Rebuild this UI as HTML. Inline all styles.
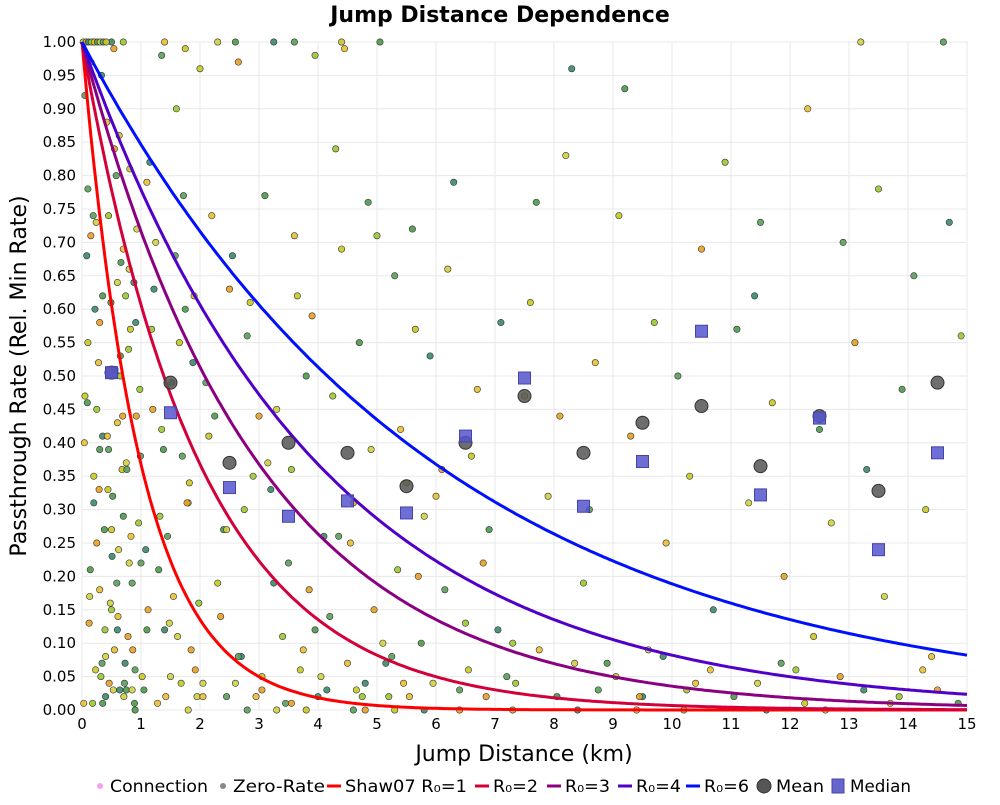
<!DOCTYPE html>
<html><head><meta charset="utf-8"><style>
body{margin:0;background:#fff;font-family:"Liberation Sans","DejaVu Sans",sans-serif}
svg text{font-family:"DejaVu Sans","Liberation Sans",sans-serif}
</style></head><body>
<svg id="c" width="1000" height="800" xmlns="http://www.w3.org/2000/svg">
<rect width="1000" height="800" fill="#fff"/>
<text x="500" y="22" text-anchor="middle" font-size="22" font-weight="bold">Jump Distance Dependence</text>
<rect x="82" y="42" width="885" height="668" fill="#fff" stroke="#ccc"/>
<g id="grid"></g><g id="pts"></g><g id="curves"></g><g id="stats"></g><g id="axes"></g>
<text x="524" y="761" text-anchor="middle" font-size="22">Jump Distance (km)</text>
<text transform="translate(26,376) rotate(-90)" text-anchor="middle" font-size="22">Passthrough Rate (Rel. Min Rate)</text>
<g id="legend" font-size="17"></g>
</svg>
<script>
const xTicks=[0,1,2,3,4,5,6,7,8,9,10,11,12,13,14,15];
const yTicks=[0,0.05,0.1,0.15,0.2,0.25,0.3,0.35,0.4,0.45,0.5,0.55,0.6,0.65,0.7,0.75,0.8,0.85,0.9,0.95,1.0];
const r0Values=[1,2,3,4,6];
const r0Colors=["#ff0000","#d4003a","#8b0080","#5000c8","#0010ff"];
const binCenters=[0.5,1.5,2.5,3.5,4.5,5.5,6.5,7.5,8.5,9.5,10.5,11.5,12.5,13.5,14.5];
const meanValues=[0.505,0.49,0.37,0.40,0.385,0.335,0.40,0.47,0.385,0.43,0.455,0.365,0.44,0.328,0.49];
const medianValues=[0.505,0.445,0.333,0.29,0.313,0.295,0.41,0.497,0.305,0.372,0.567,0.322,0.437,0.24,0.385];
const ptX=[0.05,0.1,0.15,0.2,0.25,0.3,0.35,0.4,0.45,0.5,0.55,0.6,0.65,0.7,0.75,0.8,0.1,0.2,0.3,0.4,0.5,0.6,0.7,0.8,0.9,0.15,0.25,0.35,0.45,0.55,0.65,0.75,0.85,0.05,0.12,0.22,0.32,0.42,0.52,0.62,0.72,0.82,0.92,0.08,0.18,0.28,0.38,0.48,0.58,0.68,0.78,0.88,0.98,0.04,0.14,0.24,0.34,0.44,0.54,0.64,0.74,1.1,1.3,1.5,1.7,1.9,1.2,1.4,1.6,1.8,1.05,1.25,1.45,1.65,1.85,1.15,1.35,1.55,1.75,1.95,2.1,2.3,2.5,2.7,2.9,2.2,2.4,2.6,2.8,2.15,2.35,2.55,2.75,2.95,3.1,3.3,3.5,3.7,3.9,3.2,3.4,3.6,3.8,3.15,3.45,3.65,3.85,4.1,4.3,4.5,4.7,4.9,4.2,4.4,4.6,4.8,4.25,4.55,4.85,5.1,5.3,5.5,5.7,5.9,5.2,5.4,5.6,5.8,5.25,5.65,6.1,6.3,6.5,6.7,6.9,6.2,6.4,6.6,6.8,7.1,7.3,7.5,7.7,7.9,7.2,7.6,8.1,8.3,8.5,8.7,8.9,8.2,8.6,9.1,9.3,9.5,9.7,9.9,9.2,9.6,10.1,10.3,10.5,10.7,10.9,10.4,11.1,11.3,11.5,11.7,11.9,11.4,12.1,12.3,12.5,12.7,12.9,12.4,13.1,13.3,13.5,13.7,13.9,13.6,14.1,14.3,14.5,14.7,14.9,14.4,0.3,0.6,1.0,2.0,3.0,4.0,5.0,6.0,1.1,2.3,3.6,4.4,0.2,0.5,0.7,1.4,2.6,3.3,4.6,5.3,6.4,8.4,10.2,12.6,0.9,1.8,2.8,3.8,4.8,5.8,7.3,9.4,11.6,13.2,14.6,
0.02,0.07,0.11,0.16,0.21,0.26,0.31,0.36,0.41,0.46,0.51,0.56,0.61,0.66,0.71,0.76,0.81,0.86,0.91,0.96,0.03,0.09,0.13,0.19,0.23,0.29,0.33,0.39,0.43,0.49,0.53,0.59,0.63,0.69,0.73,0.79,0.83,0.89,0.93,0.99,1.02,1.12,1.22,1.32,1.42,1.52,1.62,1.72,1.82,1.92,1.08,1.18,1.28,1.38,1.48,1.58,1.68,1.78,1.88,1.98,2.05,2.25,2.45,2.65,2.85,3.05,3.25,3.55,3.75,3.95,4.05,4.35,4.65,4.95,5.15,5.35,5.55,5.75,5.95,6.15,6.55,6.85,7.05,7.35,7.75,8.05,8.35,8.75,9.05,9.45,9.85,10.25,10.65,11.05,11.45,11.85,12.25,12.85,13.25,13.85,14.25,14.85,2.05,2.45,3.05,3.55,4.15,4.75,5.45,0.35,0.85,1.35,1.75,2.65,3.25,3.95,4.45,5.05];
const ptY=[0.92,0.55,0.71,0.31,0.45,0.18,0.62,0.08,0.39,0.27,0.84,0.12,0.5,0.69,0.03,0.22,0.78,0.35,0.58,0.02,0.15,0.43,0.29,0.66,0.06,0.97,0.25,0.41,0.74,0.09,0.53,0.37,0.19,0.47,0.13,0.6,0.05,0.88,0.32,0.24,0.04,0.57,0.44,0.68,0.01,0.52,0.27,0.16,0.8,0.36,0.11,0.64,0.48,0.4,0.21,0.73,0.07,0.33,0.99,0.03,0.62,0.79,0.21,0.05,0.38,0.62,0.45,0.12,0.9,0.31,0.03,0.7,0.26,0.55,0.09,0.82,0.42,0.17,0.6,0.02,0.49,0.19,0.63,0.08,0.35,0.74,0.27,0.04,0.56,0.41,0.14,0.68,0.3,0.02,0.77,0.45,0.22,0.06,0.59,0.33,0.11,0.71,0.5,0.37,0.01,0.62,0.18,0.26,0.84,0.07,0.55,0.39,0.14,0.69,0.31,0.04,0.47,0.25,0.76,0.1,0.65,0.34,0.2,0.53,0.02,0.42,0.72,0.29,0.08,0.57,0.36,0.79,0.13,0.48,0.27,0.66,0.03,0.38,0.22,0.58,0.1,0.47,0.76,0.32,0.05,0.61,0.44,0.96,0.19,0.52,0.07,0.83,0.3,0.74,0.41,0.02,0.58,0.25,0.93,0.09,0.5,0.35,0.69,0.15,0.82,0.04,0.57,0.31,0.73,0.46,0.2,0.62,0.06,0.9,0.42,0.28,0.7,0.11,0.55,0.36,0.78,0.01,0.48,0.17,0.65,0.3,0.03,0.73,0.56,0.08,0.39,0.64,0.22,0.96,0.44,0.02,0.71,0.32,0.12,1.0,1.0,1.0,1.0,1.0,1.0,1.0,1.0,0.0,0.0,0.0,0.0,0.0,0.0,0.0,0.0,0.0,0.0,0.0,0.0,0.0,0.0,0.0,0.0,1.0,1.0,1.0,1.0,1.0,1.0,1.0,1.0,1.0,1.0,1.0,
0.04,0.23,0.51,0.14,0.67,0.02,0.36,0.81,0.09,0.58,0.28,0.01,0.46,0.17,0.74,0.06,0.33,0.95,0.12,0.41,0.61,0.03,0.19,0.86,0.44,0.07,0.54,0.26,0.01,0.72,0.38,0.05,0.15,0.63,0.29,0.02,0.49,0.11,0.77,0.34,0.06,0.24,0.57,0.01,0.39,0.13,0.68,0.04,0.31,0.52,0.16,0.02,0.44,0.27,0.08,0.61,0.03,0.19,0.36,0.09,0.12,0.05,0.26,0.03,0.15,0.07,0.21,0.02,0.1,0.04,0.18,0.06,0.02,0.12,0.04,0.09,0.02,0.07,0.03,0.05,0.02,0.08,0.03,0.06,0.02,0.04,0.07,0.01,0.05,0.03,0.02,0.06,0.01,0.04,0.02,0.05,0.01,0.03,0.02,0.04,0.01,0.03,0.98,0.99,0.97,1.0,0.98,0.99,1.0,1.0,1.0,1.0,1.0,0.0,0.0,0.0,0.0,0.0];
const ptColors=["#5a9e5a","#c8c820","#e8a020","#3a8a6a","#9ac830","#e8c030","#4a9a4a","#d0d040"];
const X0=82,X1=967,Y0=710,Y1=42;
const sx=v=>X0+(X1-X0)*v/15, sy=v=>Y0-(Y0-Y1)*v;
const NS="http://www.w3.org/2000/svg";
function mk(tag,attrs,parent){const e=document.createElementNS(NS,tag);for(const k in attrs)e.setAttribute(k,attrs[k]);parent.appendChild(e);return e;}
const grid=document.getElementById('grid'),axes=document.getElementById('axes');
xTicks.forEach(t=>{
 const l=mk('line',{x1:sx(t),x2:sx(t),y1:Y1,y2:Y0,stroke:'#e8e8e8'},grid);
 
 
 const tx=mk('text',{x:sx(t),y:729,'text-anchor':'middle','font-size':15},axes);tx.textContent=t;
 
 
});
yTicks.forEach(t=>{
 const l=mk('line',{x1:X0,x2:X1,y1:sy(t),y2:sy(t),stroke:'#e8e8e8'},grid);
 
 
 const tx=mk('text',{x:76,y:sy(t)+5,'text-anchor':'end','font-size':15},axes);tx.textContent=t.toFixed(2);
 
 
});
const pts=document.getElementById('pts');
const n=Math.min(ptX.length,ptY.length);
for(let i=0;i<n;i++){
 const c=mk('circle',{cx:sx(ptX[i]),cy:sy(ptY[i]),r:3.2,fill:ptColors[i%ptColors.length],stroke:'#333','stroke-width':0.6,'fill-opacity':0.9},pts);
 
 
}
const curves=document.getElementById('curves');
r0Values.forEach((r,i)=>{
 let d='';for(let k=0;k<=300;k++){const x=15*k/300;d+=(k?'L':'M')+sx(x).toFixed(1)+','+sy(Math.exp(-x/r)).toFixed(1);}
 const p=mk('path',{d:d,fill:'none',stroke:r0Colors[i],'stroke-width':3},curves);
 
 
});
const stats=document.getElementById('stats');
binCenters.forEach((b,i)=>{
 const c=mk('circle',{cx:sx(b),cy:sy(meanValues[i]),r:6.5,fill:'#555','fill-opacity':0.85,stroke:'#333'},stats);
 
 
 const s=mk('rect',{x:sx(b)-6,y:sy(medianValues[i])-6,width:12,height:12,fill:'#5555cc','fill-opacity':0.85,stroke:'#4444aa'},stats);
 
 
});
const lg=document.getElementById('legend');const ly=792;
function ltext(x,w,t){const e=mk('text',{x:x,y:ly,textLength:w,lengthAdjust:'spacingAndGlyphs'},lg);e.textContent=t;return e;}
let e;
e=mk('circle',{cx:100,cy:ly-6,r:3,fill:'#f8a0f0'},lg);
ltext(110,98,'Connection');
e=mk('circle',{cx:223,cy:ly-6,r:3,fill:'#888'},lg);
ltext(233,92,'Zero-Rate');
const lineX=[327,475,547,618,686];const labX=[345,493,565,636,704];const labW=[122,45,45,45,45];
const labs=['Shaw07 R₀=1','R₀=2','R₀=3','R₀=4','R₀=6'];
labs.forEach((lab,i)=>{
 e=mk('line',{x1:lineX[i],x2:lineX[i]+14,y1:ly-6,y2:ly-6,stroke:r0Colors[i],'stroke-width':3},lg);
 
 
 ltext(labX[i],labW[i],lab);
});
e=mk('circle',{cx:764,cy:ly-6,r:7,fill:'#555',stroke:'#333'},lg);
ltext(776,48,'Mean');
e=mk('rect',{x:832,y:ly-13,width:12,height:14,fill:'#6666cc',stroke:'#4444aa'},lg);
ltext(850,61,'Median');
</script>
</body></html>
